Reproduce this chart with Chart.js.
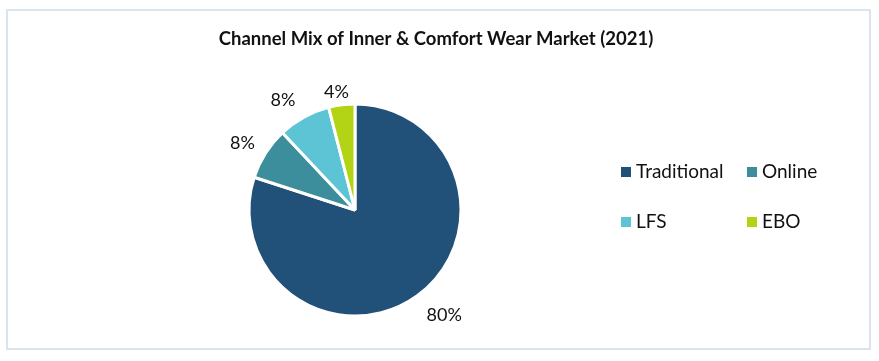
<!DOCTYPE html>
<html>
<head>
<meta charset="utf-8">
<script src="https://cdn.jsdelivr.net/npm/chart.js@4"></script>
<style>
  html, body { margin: 0; padding: 0; background: #fff; }
  #wrap { position: relative; width: 879px; height: 361px; }
</style>
</head>
<body>
<div id="wrap"><canvas id="chart" width="879" height="361"></canvas></div>
<script>
// Chart data
const channels = ['Traditional', 'Online', 'LFS', 'EBO'];
const shares = [80, 8, 8, 4];
const sliceColors = ['#215078', '#3D8E9D', '#5CC4D4', '#B3D414'];
const chartTitle = 'Channel Mix of Inner & Comfort Wear Market (2021)';

const FONT = 'Lato, "Open Sans", sans-serif';

// label nudges: [extra radius px, angle shift deg] (Excel "best fit" look)
const labelNudge = [[32, -4.3], [25, -1.6], [25, -4.6], [13, -1.8]];

// Frame + title
const framePlugin = {
  id: 'frame',
  beforeDraw(chart) {
    const ctx = chart.ctx;
    ctx.save();
    ctx.strokeStyle = '#dae4ef';
    ctx.lineWidth = 2;
    ctx.strokeRect(7, 10, 863, 339);
    ctx.fillStyle = '#111';
    ctx.font = 'bold 18.5px ' + FONT;
    ctx.textAlign = 'center';
    ctx.textBaseline = 'middle';
    ctx.fillText(chartTitle, 436, 39);
    ctx.restore();
  }
};

// Percent labels outside each slice
const outsideLabels = {
  id: 'outsideLabels',
  afterDatasetsDraw(chart) {
    const ctx = chart.ctx;
    const meta = chart.getDatasetMeta(0);
    ctx.save();
    ctx.fillStyle = '#111';
    ctx.font = '18px ' + FONT;
    ctx.textAlign = 'center';
    ctx.textBaseline = 'middle';
    meta.data.forEach((arc, i) => {
      const p = arc.getProps(['x', 'y', 'startAngle', 'endAngle', 'outerRadius'], true);
      const mid = (p.startAngle + p.endAngle) / 2 + labelNudge[i][1] * Math.PI / 180;
      const r = p.outerRadius + labelNudge[i][0];
      ctx.fillText(shares[i] + '%', p.x + Math.cos(mid) * r, p.y + Math.sin(mid) * r);
    });
    ctx.restore();
  }
};

// 2x2 legend on the right
const gridLegend = {
  id: 'gridLegend',
  afterDraw(chart) {
    const ctx = chart.ctx;
    const cols = [621, 747];
    const rows = [172, 222];
    ctx.save();
    ctx.font = '19px ' + FONT;
    ctx.textBaseline = 'middle';
    ctx.textAlign = 'left';
    chart.data.labels.forEach((label, i) => {
      const x = cols[i % 2];
      const y = rows[Math.floor(i / 2)];
      ctx.fillStyle = sliceColors[i];
      ctx.fillRect(x, y - 5, 10, 10);
      ctx.fillStyle = '#111';
      ctx.fillText(label, x + 15, y);
    });
    ctx.restore();
  }
};

new Chart(document.getElementById('chart'), {
  type: 'pie',
  data: {
    labels: channels,
    datasets: [{
      data: shares,
      backgroundColor: sliceColors,
      borderColor: '#ffffff',
      borderWidth: 3
    }]
  },
  options: {
    responsive: false,
    animation: false,
    radius: 106,
    layout: { padding: { left: 245, right: 414, top: 100, bottom: 41 } },
    plugins: {
      legend: { display: false },
      title: { display: false },
      tooltip: { enabled: false }
    }
  },
  plugins: [framePlugin, outsideLabels, gridLegend]
});
</script>
</body>
</html>
